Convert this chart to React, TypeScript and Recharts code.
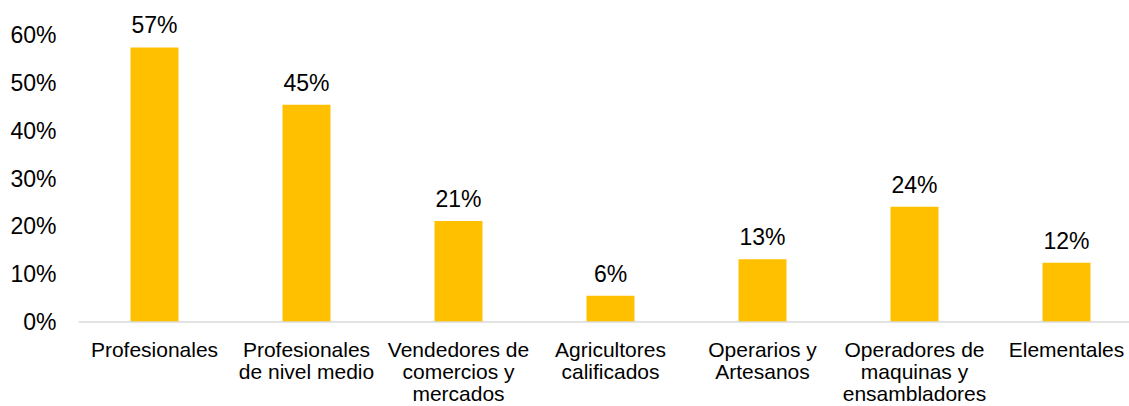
import React from "react";
import { BarChart, Bar, XAxis, YAxis, LabelList } from "recharts";

const categories: string[] = [
  "Profesionales",
  "Profesionales\nde nivel medio",
  "Vendedores de\ncomercios y\nmercados",
  "Agricultores\ncalificados",
  "Operarios y\nArtesanos",
  "Operadores de\nmaquinas y\nensambladores",
  "Elementales",
];
const values: number[] = [57.4, 45.4, 21.1, 5.5, 13.1, 24.1, 12.4];
const yTicks: number[] = [0, 10, 20, 30, 40, 50, 60];

const data = categories.map((c, i) => ({ name: c, value: values[i] }));

const FONT = '"Liberation Sans", Arial, sans-serif';

const CategoryTick = (props: any) => {
  const { x, y, payload } = props;
  const lines: string[] = String(payload.value).split("\n");
  return (
    <text
      x={x}
      y={y}
      textAnchor="middle"
      fontFamily={FONT}
      fontSize={21}
      fill="#000"
    >
      {lines.map((l, i) => (
        <tspan key={i} x={x} y={y + 35 + i * 22}>
          {l}
        </tspan>
      ))}
    </text>
  );
};

export default function App() {
  return (
    <div
      style={{
        position: "fixed",
        left: 0,
        top: 0,
        width: 1129,
        height: 406,
        overflow: "hidden",
        background: "#fff",
      }}
    >
      <BarChart
        width={1142.5}
        height={406}
        data={data}
        margin={{ top: 35, right: 0, left: 0, bottom: 0 }}
      >
        <XAxis
          dataKey="name"
          interval={0}
          height={84}
          tickLine={false}
          tickSize={0}
          tickMargin={0}
          axisLine={{ stroke: "#d9d9d9", strokeWidth: 1.5 }}
          tick={<CategoryTick />}
        />
        <YAxis
          width={78.5}
          domain={[0, 60]}
          ticks={yTicks}
          axisLine={false}
          tickLine={false}
          tickSize={0}
          tickMargin={22}
          tickFormatter={(v: number) => `${v}%`}
          tick={{ fontFamily: FONT, fontSize: 23, fill: "#000" }}
        />
        <Bar dataKey="value" fill="#FFC000" barSize={48} isAnimationActive={false}>
          <LabelList
            dataKey="value"
            position="top"
            offset={14}
            formatter={(v: any) => `${Math.round(Number(v))}%`}
            style={{ fontFamily: FONT, fontSize: 23, fill: "#000" }}
          />
        </Bar>
      </BarChart>
    </div>
  );
}
